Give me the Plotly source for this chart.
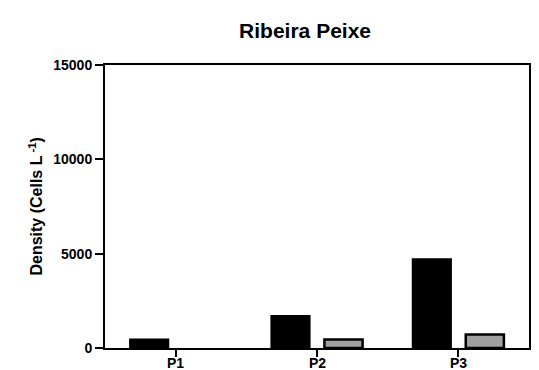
import plotly.graph_objects as go

# Sampling points and cell densities (cells per litre) for the two series
sites = ["P1", "P2", "P3"]
series_a = [450, 1700, 4700]
series_b = [0, 450, 720]
y_ticks = [0, 5000, 10000, 15000]
y_tick_labels = ["0", "5000", "10000", "15000"]

FONT = "Liberation Sans, Arial, sans-serif"

# a zero-height bar gets no outline
outline_b = [0 if v == 0 else 2.5 for v in series_b]

fig = go.Figure()
fig.add_trace(go.Bar(x=sites, y=series_a, name="A",
                     marker=dict(color="black", line=dict(color="black", width=2))))
fig.add_trace(go.Bar(x=sites, y=series_b, name="B",
                     marker=dict(color="#a0a0a0", line=dict(color="black", width=outline_b))))

fig.update_layout(
    width=539, height=370,
    margin=dict(l=105, r=10, t=65, b=22, autoexpand=False),
    paper_bgcolor="white", plot_bgcolor="white",
    barmode="group", bargap=0.25, bargroupgap=0.28,
    showlegend=False,
    font=dict(family=FONT, color="black"),
    title=dict(text="<b>Ribeira Peixe</b>", x=0.566, xanchor="center",
               y=0.916, yanchor="middle", font=dict(size=21, family=FONT)),
)
fig.update_xaxes(
    showline=True, linecolor="black", linewidth=2, mirror=True,
    ticks="outside", ticklen=7, tickwidth=2, tickcolor="black",
    showticklabels=False,
    range=[-0.5, 2.5], showgrid=False, automargin=False,
)
fig.update_yaxes(
    showline=True, linecolor="black", linewidth=2, mirror=True,
    ticks="outside", ticklen=8, tickwidth=2, tickcolor="black",
    tickvals=y_ticks, ticktext=y_tick_labels,
    tickfont=dict(size=14, family=FONT, weight="bold"),
    range=[0, 15000], showgrid=False, zeroline=False, automargin=False,
)

# category labels sit just under the tick marks
for s in sites:
    fig.add_annotation(
        text=f"<b>{s}</b>", x=s, xref="x", y=-0.018, yref="paper",
        xanchor="center", yanchor="top", showarrow=False,
        font=dict(size=14, family=FONT),
    )

fig.add_annotation(
    text="<b>Density (Cells L<sup> -1</sup>)</b>", textangle=-90,
    xref="paper", yref="paper", x=-0.165, y=0.5,
    xanchor="center", yanchor="middle", showarrow=False,
    font=dict(size=16, family=FONT),
)

fig.write_html("out.html")
